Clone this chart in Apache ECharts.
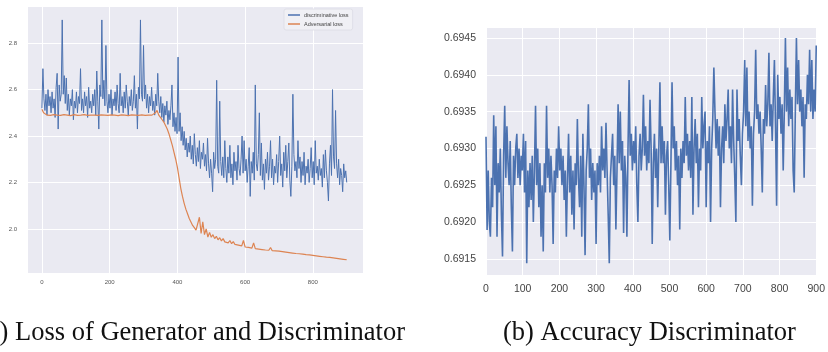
<!DOCTYPE html>
<html>
<head>
<meta charset="utf-8">
<script src="https://cdn.jsdelivr.net/npm/echarts@6/dist/echarts.min.js"></script>
<style>
  html, body { margin: 0; padding: 0; background: #fff; }
  #chart { width: 828px; height: 352px; }
</style>
</head>
<body>
<div id="chart"></div>
<script>
// (a) losses: discriminative loss every 3 iterations, adversarial loss every 5
const discStep = 3;
const discLoss = [
  2.52,2.69,2.56,2.51,2.58,2.49,2.60,2.53,2.57,2.50,2.59,2.52,2.56,2.48,2.61,2.67,2.43,2.62,2.55,2.58,
  2.90,2.58,2.66,2.54,2.65,2.51,2.58,2.49,2.56,2.53,2.60,2.47,2.55,2.52,2.59,2.50,2.57,2.54,2.69,2.51,
  2.56,2.50,2.59,2.53,2.57,2.48,2.61,2.52,2.55,2.50,2.58,2.53,2.60,2.49,2.68,2.55,2.43,2.62,2.57,2.90,
  2.56,2.64,2.53,2.79,2.55,2.50,2.58,2.52,2.60,2.49,2.56,2.53,2.59,2.51,2.62,2.54,2.50,2.67,2.53,2.57,
  2.50,2.59,2.52,2.62,2.55,2.49,2.57,2.53,2.60,2.51,2.55,2.66,2.52,2.58,2.43,2.61,2.56,2.90,2.58,2.55,
  2.79,2.56,2.62,2.52,2.58,2.50,2.57,2.53,2.61,2.51,2.55,2.49,2.58,2.53,2.67,2.55,2.50,2.57,2.48,2.54,
  2.46,2.53,2.49,2.55,2.45,2.51,2.47,2.53,2.62,2.44,2.50,2.42,2.48,2.41,2.74,2.42,2.50,2.38,2.44,2.36,
  2.42,2.34,2.39,2.31,2.37,2.33,2.40,2.30,2.36,2.28,2.41,2.32,2.27,2.35,2.29,2.38,2.26,2.33,2.30,2.37,
  2.27,2.32,2.25,2.39,2.28,2.22,2.30,2.24,2.16,2.33,2.26,2.30,2.64,2.27,2.24,2.55,2.29,2.23,2.31,2.22,
  2.38,2.26,2.20,2.31,2.24,2.36,2.22,2.28,2.19,2.33,2.25,2.29,2.21,2.36,2.26,2.23,2.30,2.40,2.24,2.38,
  2.25,2.30,2.20,2.27,2.35,2.14,2.29,2.24,2.33,2.21,2.62,2.28,2.25,2.32,2.50,2.23,2.37,2.21,2.28,2.17,
  2.30,2.24,2.33,2.21,2.27,2.38,2.22,2.30,2.19,2.27,2.24,2.32,2.20,2.29,2.40,2.23,2.28,2.18,2.33,2.25,
  2.36,2.22,2.29,2.37,2.21,2.14,2.27,2.58,2.32,2.25,2.29,2.22,2.38,2.26,2.31,2.20,2.29,2.23,2.33,2.19,
  2.27,2.24,2.30,2.20,2.26,2.35,2.22,2.29,2.19,2.38,2.24,2.27,2.21,2.30,2.23,2.26,2.18,2.32,2.22,2.34,
  2.25,2.20,2.12,2.28,2.36,2.23,2.60,2.31,2.26,2.51,2.28,2.22,2.30,2.19,2.26,2.23,2.16,2.28,2.22,2.25,
  2.20
];
const advStep = 5;
const advLoss = [
  2.515,2.50,2.492,2.49,2.491,2.489,2.49,2.492,2.488,2.49,2.491,2.489,2.49,2.492,2.489,2.49,2.491,2.488,2.49,2.492,2.49,
  2.489,2.491,2.49,2.488,2.492,2.49,2.489,2.491,2.49,2.488,2.49,2.492,2.489,2.49,2.491,2.488,2.49,2.492,2.489,2.49,
  2.491,2.489,2.49,2.492,2.488,2.49,2.491,2.489,2.49,2.492,2.488,2.49,2.491,2.489,2.49,2.492,2.489,2.49,2.491,2.49,
  2.489,2.491,2.49,2.492,2.49,2.495,2.50,2.51,2.49,2.48,2.47,2.46,2.445,2.43,2.41,2.385,2.36,2.33,2.30,2.265,
  2.22,2.175,2.14,2.11,2.085,2.065,2.045,2.03,2.015,2.005,1.995,1.99,2.05,1.98,2.03,1.975,2.0,1.965,1.985,1.964,
  1.975,1.958,1.968,1.953,1.962,1.948,1.958,1.944,1.952,1.94,1.95,1.936,1.945,1.933,1.941,1.93,1.938,1.927,1.95,1.922,
  1.93,1.92,1.928,1.917,1.94,1.915,1.922,1.913,1.92,1.911,1.918,1.909,1.916,1.908,1.92,1.906,1.913,1.905,1.911,1.904,
  1.91,1.902,1.908,1.9,1.906,1.898,1.904,1.896,1.902,1.894,1.9,1.893,1.898,1.891,1.896,1.889,1.894,1.888,1.892,1.886,
  1.89,1.884,1.888,1.882,1.886,1.88,1.884,1.878,1.882,1.877,1.88,1.875,1.878,1.873,1.876,1.871,1.874,1.869,1.872,1.867
];
const lossXTicks = [0, 200, 400, 600, 800];
const lossYTicks = [2.0, 2.2, 2.4, 2.6, 2.8];

// (b) discriminator accuracy, one value every 3 iterations
const accStep = 3;
const accDisc = [
  0.69316,0.69189,0.6927,0.6920,0.6918,0.6926,0.6922,0.69345,0.6925,0.6933,0.6918,0.6928,0.6924,0.6930,0.6921,0.69153,0.6929,0.69358,0.6926,0.6933,
  0.6928,0.6925,0.6931,0.6922,0.6916,0.6929,0.6925,0.6930,0.6932,0.6926,0.6930,0.6925,0.6929,0.6927,0.6932,0.6924,0.6931,0.69144,0.6927,0.6922,
  0.6928,0.6923,0.6929,0.6920,0.6927,0.69358,0.6925,0.6930,0.6922,0.6928,0.6918,0.6925,0.6916,0.6928,0.6924,0.69358,0.6926,0.6930,0.6924,0.6929,
  0.6925,0.6917,0.6927,0.6924,0.6930,0.6926,0.6933,0.6927,0.6930,0.6925,0.6929,0.6923,0.6927,0.6918,0.6926,0.6932,0.6924,0.6929,0.6921,0.6927,
  0.6919,0.6928,0.6925,0.6934,0.6926,0.6922,0.6929,0.6918,0.6932,0.6925,0.69155,0.6927,0.6930,0.6936,0.6926,0.6930,0.6923,0.6928,0.6924,0.6927,
  0.6917,0.6928,0.6925,0.6929,0.6924,0.6933,0.6927,0.6930,0.6926,0.69335,0.6927,0.6921,0.69144,0.6926,0.6929,0.6932,0.6925,0.6929,0.6919,0.6927,
  0.6936,0.6928,0.6935,0.6927,0.6931,0.69185,0.6929,0.6926,0.6918,0.6930,0.69393,0.6929,0.6932,0.6927,0.6931,0.6928,0.6933,0.6925,0.6920,0.6929,
  0.6932,0.6927,0.6930,0.69373,0.6929,0.6933,0.6927,0.6931,0.6928,0.69366,0.6930,0.6917,0.6928,0.6932,0.6926,0.6930,0.6922,0.6930,0.6939,0.6928,
  0.6933,0.6928,0.6931,0.6921,0.6929,0.6931,0.6925,0.69175,0.6928,0.6939,0.6930,0.6933,0.6927,0.6931,0.6925,0.6929,0.6919,0.6930,0.6926,0.6931,
  0.6928,0.6937,0.6929,0.6932,0.6927,0.6931,0.6926,0.6937,0.6921,0.6930,0.6934,0.6928,0.6932,0.6922,0.6930,0.6927,0.6937,0.6930,0.6933,0.6935,
  0.6922,0.6931,0.6928,0.6933,0.6920,0.6930,0.6934,0.6941,0.6935,0.6930,0.6934,0.6929,0.6933,0.6922,0.6930,0.6933,0.6928,0.6936,0.6931,0.6934,
  0.6938,0.6930,0.6933,0.6928,0.6938,0.6931,0.6926,0.6920,0.6938,0.6931,0.6934,0.6929,0.6925,0.6932,0.6935,0.6942,0.6933,0.6941,0.6931,0.6935,
  0.6930,0.6933,0.69222,0.6932,0.6935,0.69434,0.6934,0.6936,0.6932,0.6935,0.6930,0.6924,0.6934,0.6932,0.69386,0.6933,0.6936,0.6943,0.6933,0.6936,
  0.6931,0.6937,0.6942,0.6933,0.69222,0.6940,0.6934,0.6937,0.6932,0.6936,0.6927,0.6935,0.6945,0.6935,0.6941,0.6933,0.6938,0.6934,0.6937,0.6927,
  0.6924,0.6935,0.6945,0.6936,0.6942,0.6935,0.6938,0.6933,0.6937,0.6926,0.6936,0.6934,0.6940,0.6936,0.69434,0.6935,0.6942,0.6934,0.6938,0.6935,
  0.6944
];
const accXTicks = [0, 100, 200, 300, 400, 500, 600, 700, 800, 900];
const accYTicks = [0.6915, 0.6920, 0.6925, 0.6930, 0.6935, 0.6940, 0.6945];

const bg = '#EAEAF2';
const blue = '#4C72B0';
const orange = '#DD8452';

const chart = echarts.init(document.getElementById('chart'));

const splitLine = { show: true, lineStyle: { color: '#ffffff', width: 1 } };
const noLine = { show: false };

const option = {
  animation: false,
  backgroundColor: '#ffffff',
  grid: [
    { left: 27, top: 6, width: 336, height: 267, show: true, backgroundColor: bg, borderWidth: 0 },
    { left: 486, top: 27, width: 336, height: 248, show: true, backgroundColor: bg, borderWidth: 0 }
  ],
  xAxis: [
    {
      gridIndex: 0, type: 'value', min: -44, max: 948, splitNumber: 5,
      axisLine: noLine, axisTick: noLine, splitLine: splitLine,
      axisLabel: { customValues: lossXTicks, fontSize: 6, color: '#555', margin: 6, fontFamily: 'Liberation Sans' }
    },
    {
      gridIndex: 1, type: 'value', min: 0, max: 900, interval: 100,
      axisLine: noLine, axisTick: noLine, splitLine: splitLine,
      axisLabel: { customValues: accXTicks, fontSize: 10.5, color: '#444', margin: 9, fontFamily: 'Liberation Sans' }
    }
  ],
  yAxis: [
    {
      gridIndex: 0, type: 'value', min: 1.81, max: 2.96, splitNumber: 5,
      axisLine: noLine, axisTick: noLine, splitLine: splitLine,
      axisLabel: { customValues: lossYTicks, fontSize: 6, color: '#555', margin: 10, fontFamily: 'Liberation Sans',
        formatter: v => v.toFixed(1) }
    },
    {
      gridIndex: 1, type: 'value', min: 0.69128, max: 0.69465, splitNumber: 6,
      axisLine: noLine, axisTick: noLine, splitLine: splitLine,
      axisLabel: { customValues: accYTicks, fontSize: 10.5, color: '#444', margin: 10, fontFamily: 'Liberation Sans',
        formatter: v => v.toFixed(4) }
    }
  ],
  legend: {
    data: ['discriminative loss', 'Adversarial loss'],
    orient: 'vertical',
    left: 284, top: 9,
    padding: [3, 4, 3, 4],
    itemGap: 3,
    itemWidth: 12, itemHeight: 1.5,
    icon: 'rect',
    backgroundColor: '#F0F0F5',
    borderColor: '#DCDCE4', borderWidth: 0.8, borderRadius: 2,
    textStyle: { fontSize: 5.5, color: '#444', fontFamily: 'Liberation Sans', padding: [0, 0, 0, -1] }
  },
  series: [
    {
      name: 'discriminative loss', type: 'line', xAxisIndex: 0, yAxisIndex: 0,
      data: discLoss.map((v, i) => [i * discStep, v]),
      symbol: 'none', lineStyle: { color: blue, width: 1 }, itemStyle: { color: blue }
    },
    {
      name: 'Adversarial loss', type: 'line', xAxisIndex: 0, yAxisIndex: 0,
      data: advLoss.map((v, i) => [i * advStep, v]),
      symbol: 'none', lineStyle: { color: orange, width: 1.2 }, itemStyle: { color: orange }
    },
    {
      name: 'accuracy', type: 'line', xAxisIndex: 1, yAxisIndex: 1,
      data: accDisc.map((v, i) => [i * accStep, v]),
      symbol: 'none', lineStyle: { color: blue, width: 1.6 }, itemStyle: { color: blue }
    }
  ],
  graphic: [
    {
      type: 'text', x: -21, y: 333,
      style: { text: '(a) Loss of Generator and Discriminator', font: '26.5px "Liberation Serif"', fill: '#111', verticalAlign: 'middle' }
    },
    {
      type: 'text', x: 503, y: 333,
      style: { text: '(b) Accuracy Discriminator', font: '26.5px "Liberation Serif"', fill: '#111', verticalAlign: 'middle' }
    }
  ]
};

chart.setOption(option);
</script>
</body>
</html>
